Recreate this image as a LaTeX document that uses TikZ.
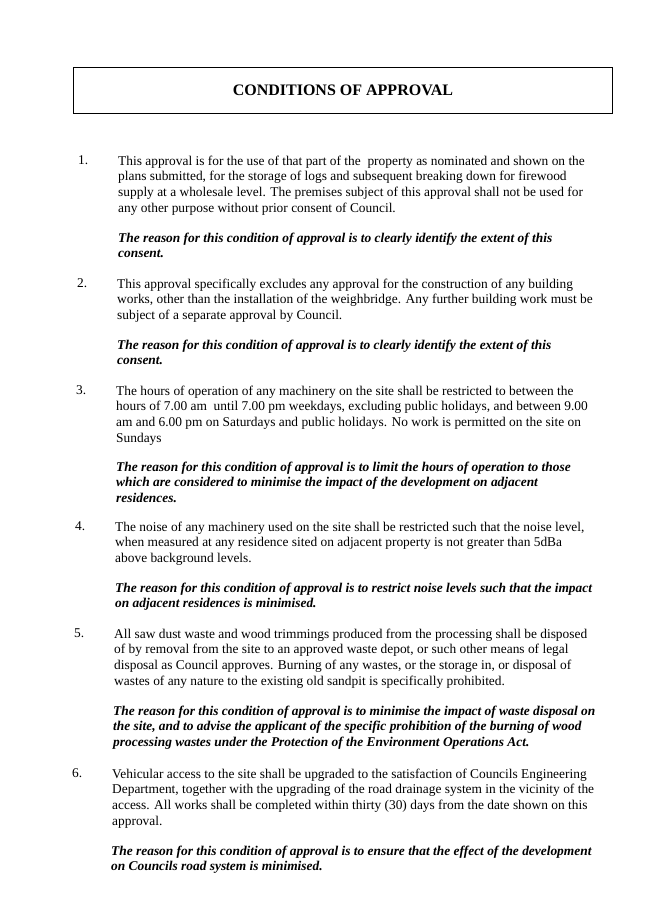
\documentclass[tikz,border=0pt]{standalone}
\usepackage{fontspec}
\setmainfont{Liberation Serif}
\begin{document}
\begin{tikzpicture}[x=1pt,y=-1pt,
  para/.style={anchor=north west,inner sep=0pt,align=left,font=\fontsize{13.4}{15.7}\selectfont},
  reason/.style={para,font=\fontsize{13.4}{15.7}\selectfont\bfseries\itshape},
  num/.style={anchor=north west,inner sep=0pt,font=\fontsize{13.4}{15.7}\selectfont}]
\useasboundingbox[fill=white] (0,0) rectangle (645,919);
\node[draw,line width=0.8pt,minimum width=539pt,minimum height=46pt,anchor=north west,inner sep=0pt,font=\fontsize{16}{18}\selectfont\bfseries] (title) at (73,67) {CONDITIONS OF APPROVAL};
\def\sh{6.5}
\node[num] (n1) at (78,162-\sh) {1.};
\node[para] (p1) at (118,162-\sh) {This approval is for the use of that part of the\ \ property as nominated and shown on the\\plans submitted, for the storage of logs and subsequent breaking down for firewood\\supply at a wholesale level. The premises subject of this approval shall not be used for\\any other purpose without prior consent of Council.};
\node[reason] (r1) at (118,239-\sh) {The reason for this condition of approval is to clearly identify the extent of this\\consent.};
\node[num] (n2) at (77,285-\sh) {2.};
\node[para] (p2) at (117,285-\sh) {This approval specifically excludes any approval for the construction of any building\\works, other than the installation of the weighbridge. Any further building work must be\\subject of a separate approval by Council.};
\node[reason] (r2) at (117,346-\sh) {The reason for this condition of approval is to clearly identify the extent of this\\consent.};
\node[num] (n3) at (76,392-\sh) {3.};
\node[para] (p3) at (116,392-\sh) {The hours of operation of any machinery on the site shall be restricted to between the\\hours of 7.00 am\ \ until 7.00 pm weekdays, excluding public holidays, and between 9.00\\am and 6.00 pm on Saturdays and public holidays. No work is permitted on the site on\\Sundays};
\node[reason] (r3) at (116,468-\sh) {The reason for this condition of approval is to limit the hours of operation to those\\which are considered to minimise the impact of the development on adjacent\\residences.};
\node[num] (n4) at (75,528-\sh) {4.};
\node[para] (p4) at (115,528-\sh) {The noise of any machinery used on the site shall be restricted such that the noise level,\\when measured at any residence sited on adjacent property is not greater than 5dBa\\above background levels.};
\node[reason] (r4) at (115,589-\sh) {The reason for this condition of approval is to restrict noise levels such that the impact\\on adjacent residences is minimised.};
\node[num] (n5) at (74,635-\sh) {5.};
\node[para] (p5) at (114,635-\sh) {All saw dust waste and wood trimmings produced from the processing shall be disposed\\of by removal from the site to an approved waste depot, or such other means of legal\\disposal as Council approves. Burning of any wastes, or the storage in, or disposal of\\wastes of any nature to the existing old sandpit is specifically prohibited.};
\node[reason] (r5) at (113,712-\sh) {The reason for this condition of approval is to minimise the impact of waste disposal on\\the site, and to advise the applicant of the specific prohibition of the burning of wood\\processing wastes under the Protection of the Environment Operations Act.};
\node[num] (n6) at (72,775-\sh) {6.};
\node[para] (p6) at (112,775-\sh) {Vehicular access to the site shall be upgraded to the satisfaction of Councils Engineering\\Department, together with the upgrading of the road drainage system in the vicinity of the\\access. All works shall be completed within thirty (30) days from the date shown on this\\approval.};
\node[reason] (r6) at (111,852-\sh) {The reason for this condition of approval is to ensure that the effect of the development\\on Councils road system is minimised.};
\end{tikzpicture}
\end{document}
